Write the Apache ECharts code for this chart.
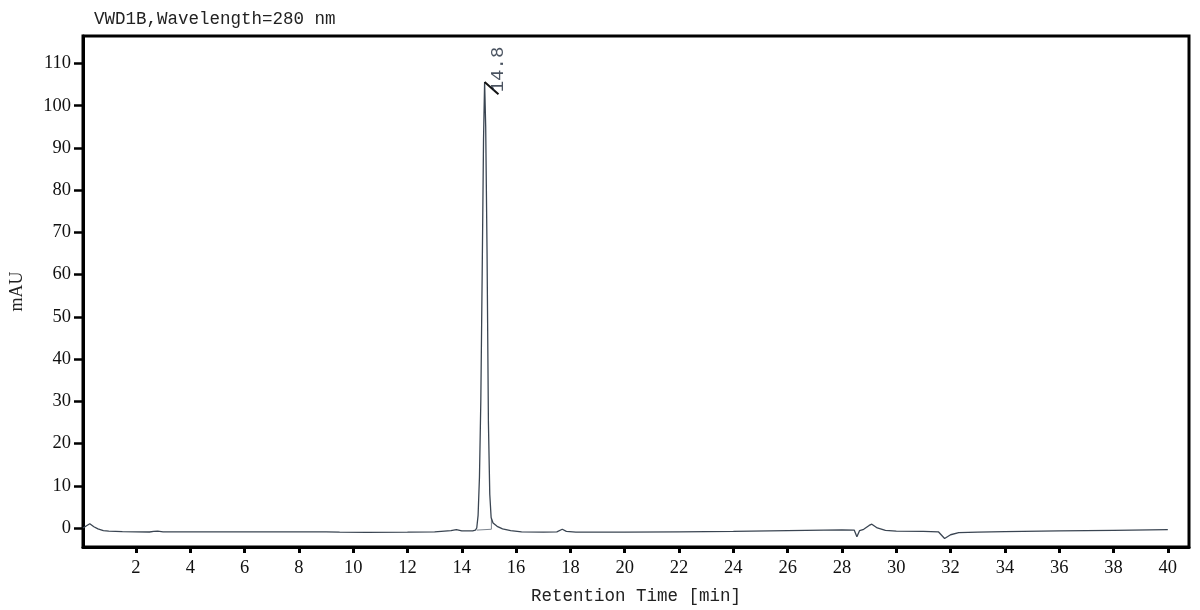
<!DOCTYPE html>
<html>
<head>
<meta charset="utf-8">
<title>VWD1B chromatogram</title>
<script src="https://cdn.jsdelivr.net/npm/echarts@6/dist/echarts.min.js"></script>
<style>
  html, body { margin: 0; padding: 0; background: #fff; }
  #chart { width: 1200px; height: 610px; }
</style>
</head>
<body>
<div id="chart"></div>
<script>
// Retention time (min) and detector signal (mAU)
const times = [
    0.05, 0.15, 0.3, 0.45, 0.6, 0.8, 1.0, 1.5, 2.0, 2.5, 2.65, 2.8, 3.0, 4.0, 6.0, 8.0,
    9.0, 9.5, 10.5, 12.0, 13.0, 13.6, 13.8, 14.0, 14.4, 14.5, 14.55, 14.6, 14.65, 14.7,
    14.75, 14.8, 14.84, 14.88, 14.93, 14.98, 15.03, 15.08, 15.15, 15.3, 15.5, 15.8, 16.2,
    17.0, 17.5, 17.7, 17.85, 18.2, 20.0, 22.0, 24.0, 26.0, 28.0, 28.45, 28.55, 28.65, 28.8,
    29.0, 29.1, 29.3, 29.6, 30.0, 31.0, 31.55, 31.78, 32.0, 32.3, 33.0, 34.0, 36.0, 38.0, 40.0
];
const signal = [
    0.0, 0.4, 1.0, 0.3, -0.2, -0.6, -0.75, -0.85, -0.9, -0.95, -0.8, -0.75, -0.9, -0.9, -0.9, -0.9,
    -0.9, -1.0, -1.05, -1.0, -0.9, -0.6, -0.4, -0.7, -0.7, -0.5, 0.0, 3, 12, 30,
    60, 92, 105.6, 95, 65, 25, 8, 2.5, 1.2, 0.4, -0.2, -0.6, -0.9,
    -1.0, -0.9, -0.3, -0.8, -1.0, -1.0, -0.9, -0.8, -0.6, -0.45, -0.5, -2.1, -0.6, -0.3,
    0.6, 0.9, 0.0, -0.55, -0.75, -0.8, -0.9, -2.5, -1.6, -1.1, -1.0, -0.85, -0.7, -0.55, -0.4
];

// Peak annotation
const peakLabel = '14.8';
const peakMark = [[14.84, 105.6], [15.35, 102.7]];
// Integration baseline and drop line under the peak
const peakBaseline = [[14.55, -0.5], [15.09, -0.3], [15.09, 2.3]];

// Tick labels
const xTicks = [2, 4, 6, 8, 10, 12, 14, 16, 18, 20, 22, 24, 26, 28, 30, 32, 34, 36, 38, 40];
const yTicks = [0, 10, 20, 30, 40, 50, 60, 70, 80, 90, 100, 110];

const traceData = times.map((t, i) => [t, signal[i]]);

const chart = echarts.init(document.getElementById('chart'));

const serif = '"Liberation Serif", "Times New Roman", serif';
const mono = '"Liberation Mono", "DejaVu Sans Mono", monospace';

chart.setOption({
    animation: false,
    backgroundColor: '#fff',
    title: {
        text: 'VWD1B,Wavelength=280 nm',
        left: 89,
        top: 5,
        textStyle: { fontFamily: mono, fontSize: 17.5, fontWeight: 'normal', color: '#222' }
    },
    grid: {
        left: 82,
        right: 11,
        top: 36,
        bottom: 60,
        show: true,
        borderColor: '#000',
        borderWidth: 3
    },
    xAxis: {
        type: 'value',
        min: 0.05,
        max: 40.78,
        name: 'Retention Time [min]',
        nameLocation: 'middle',
        nameGap: 40,
        nameTextStyle: { fontFamily: mono, fontSize: 17.5, color: '#222' },
        axisLine: { onZero: false, lineStyle: { color: '#000', width: 3 } },
        axisTick: {
            customValues: xTicks,
            length: 6,
            lineStyle: { color: '#000', width: 3 }
        },
        axisLabel: {
            customValues: xTicks,
            margin: 12,
            fontFamily: serif,
            fontSize: 18.5,
            color: '#111'
        },
        splitLine: { show: false }
    },
    yAxis: {
        type: 'value',
        min: -4.5,
        max: 116.5,
        name: 'mAU',
        nameLocation: 'middle',
        nameGap: 57,
        nameTextStyle: { fontFamily: serif, fontSize: 18, color: '#222' },
        axisLine: { onZero: false, lineStyle: { color: '#000', width: 3 } },
        axisTick: {
            customValues: yTicks,
            length: 9,
            lineStyle: { color: '#000', width: 2.5 }
        },
        axisLabel: {
            customValues: yTicks,
            margin: 12,
            fontFamily: serif,
            fontSize: 18.5,
            color: '#111'
        },
        splitLine: { show: false }
    },
    series: [
        {
            name: 'trace',
            type: 'line',
            data: traceData,
            symbol: 'none',
            smooth: false,
            lineStyle: { color: '#3a4552', width: 1.3 },
            z: 3
        },
        {
            name: 'baseline',
            type: 'line',
            data: peakBaseline,
            symbol: 'none',
            lineStyle: { color: '#7d858f', width: 1 },
            z: 2
        },
        {
            name: 'mark',
            type: 'line',
            data: peakMark,
            symbol: 'none',
            lineStyle: { color: '#111', width: 2 },
            z: 4
        },
        {
            name: 'label',
            type: 'scatter',
            data: [peakMark[1]],
            symbolSize: 0,
            label: {
                show: true,
                formatter: peakLabel,
                position: 'top',
                distance: 1,
                rotate: 90,
                align: 'left',
                verticalAlign: 'middle',
                offset: [1, 0],
                fontFamily: mono,
                fontSize: 19,
                color: '#1d2838'
            },
            z: 5
        }
    ]
});

window.addEventListener('resize', function() {
    chart.resize();
});
</script>
</body>
</html>
